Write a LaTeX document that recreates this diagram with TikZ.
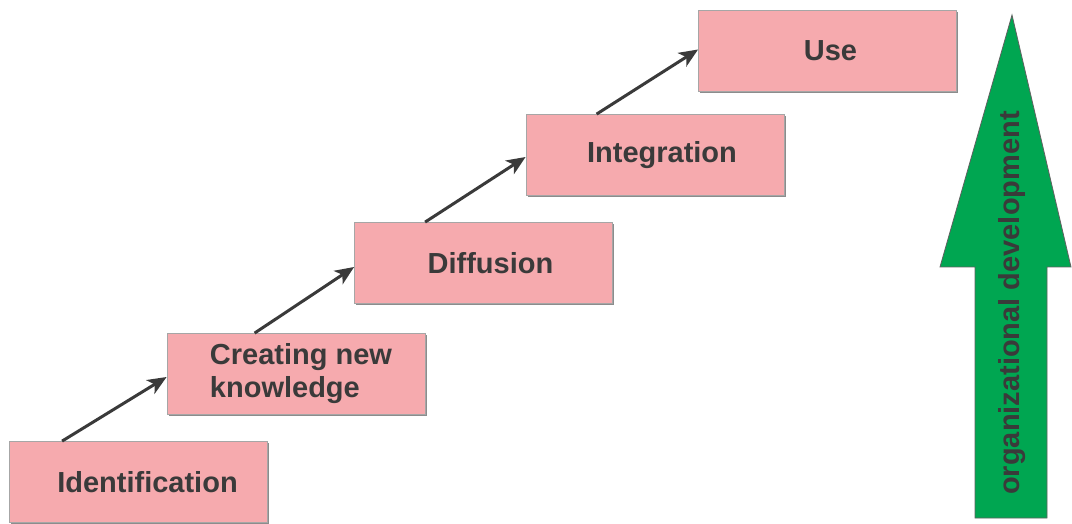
\documentclass[tikz,border=0pt]{standalone}
\usepackage{fontspec}
\setmainfont{Liberation Sans}
\usetikzlibrary{arrows.meta, calc, shadows}
\definecolor{boxpink}{RGB}{246,170,174}
\definecolor{txtgray}{RGB}{58,58,58}
\definecolor{devgreen}{RGB}{0,166,81}

\begin{document}
\begin{tikzpicture}[x=1pt, y=1pt,
  stepbox/.style={fill=boxpink, draw=gray!70, line width=0.8pt,
    minimum width=258pt, minimum height=81pt, inner sep=0pt,
    text=txtgray, font=\fontsize{29}{33}\selectfont\bfseries,
    drop shadow={shadow xshift=1.6pt, shadow yshift=-1.6pt, fill=gray!90, opacity=1}},
  stepline/.style={draw=txtgray, line width=3pt,
    -{Stealth[length=19pt, width=16pt, inset=5pt]}}]
  \useasboundingbox (0,0) rectangle (1072,523);
  % 五个阶梯方框，自左下到右上
  \node[stepbox] (ident) at (138.5,41) {\hspace{18pt}Identification};
  \node[stepbox, align=left] (create) at (296,149) {\hspace{10pt}Creating new\\\hspace{10pt}knowledge};
  \node[stepbox] (diffus) at (483.5,260) {\hspace{14pt}Diffusion};
  \node[stepbox] (integr) at (655,368) {\hspace{14pt}Integration};
  \node[stepbox] (use) at (827.5,472.5) {\hspace{6pt}Use};
  % 箭头：上一方框顶边 -> 下一方框左边
  \draw[stepline] ($(ident.north west)+(53,0)$) -- ($(create.west)+(0,-3)$);
  \draw[stepline] ($(create.north west)+(88,0)$) -- ($(diffus.west)+(0,-4)$);
  \draw[stepline] ($(diffus.north west)+(71,0)$) -- ($(integr.west)+(0,-2)$);
  \draw[stepline] ($(integr.north west)+(71,0)$) -- ($(use.west)+(0,1)$);
  % 右侧绿色大箭头
  \draw[fill=devgreen, draw=txtgray!80, line width=0.8pt]
    (975,5) -- (975,256) -- (940,256) -- (1012,508) -- (1071,256)
    -- (1047,256) -- (1047,5) -- cycle;
  \node[rotate=90, text=txtgray, font=\fontsize{29}{33}\selectfont\bfseries]
    (orgdev) at (1012,220) {organizational development};
\end{tikzpicture}
\end{document}
